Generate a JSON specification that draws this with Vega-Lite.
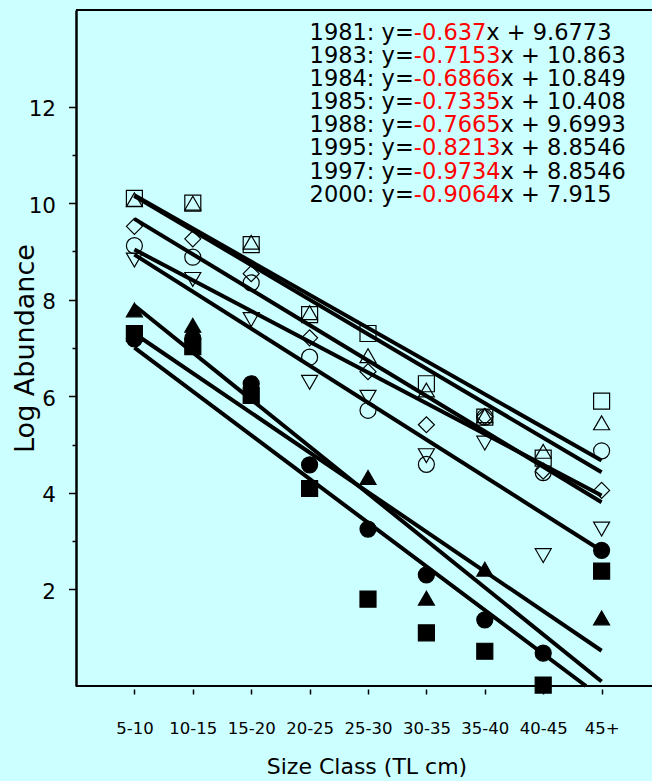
{
  "$schema": "https://vega.github.io/schema/vega-lite/v6.json",
  "width": 576,
  "height": 676,
  "autosize": {"type": "none"},
  "padding": {"left": 76, "top": 10, "right": 0, "bottom": 95},
  "background": "#CCFFFF",
  "config": {
    "view": {"stroke": null},
    "font": "DejaVu Sans",
    "axis": {"grid": false, "labelFont": "DejaVu Sans", "titleFont": "DejaVu Sans"}
  },
  "datasets": {
    "obs": [
      {"year": "1981", "k": 1, "v": 9.12}, {"year": "1981", "k": 2, "v": 8.88}, {"year": "1981", "k": 3, "v": 8.35},
      {"year": "1981", "k": 4, "v": 6.81}, {"year": "1981", "k": 5, "v": 5.71}, {"year": "1981", "k": 6, "v": 4.59},
      {"year": "1981", "k": 7, "v": 5.57}, {"year": "1981", "k": 8, "v": 4.42}, {"year": "1981", "k": 9, "v": 4.87},
      {"year": "1983", "k": 1, "v": 10.07}, {"year": "1983", "k": 2, "v": 10.0}, {"year": "1983", "k": 3, "v": 9.19},
      {"year": "1983", "k": 4, "v": 7.73}, {"year": "1983", "k": 5, "v": 6.84}, {"year": "1983", "k": 6, "v": 6.13},
      {"year": "1983", "k": 7, "v": 5.6}, {"year": "1983", "k": 8, "v": 4.86}, {"year": "1983", "k": 9, "v": 5.45},
      {"year": "1984", "k": 1, "v": 10.1}, {"year": "1984", "k": 2, "v": 10.0}, {"year": "1984", "k": 3, "v": 9.14},
      {"year": "1984", "k": 4, "v": 7.69}, {"year": "1984", "k": 5, "v": 7.3}, {"year": "1984", "k": 6, "v": 6.26},
      {"year": "1984", "k": 7, "v": 5.57}, {"year": "1984", "k": 8, "v": 4.72}, {"year": "1984", "k": 9, "v": 5.9},
      {"year": "1985", "k": 1, "v": 9.52}, {"year": "1985", "k": 2, "v": 9.26}, {"year": "1985", "k": 3, "v": 8.54},
      {"year": "1985", "k": 4, "v": 7.21}, {"year": "1985", "k": 5, "v": 6.51}, {"year": "1985", "k": 6, "v": 5.41},
      {"year": "1985", "k": 7, "v": 5.58}, {"year": "1985", "k": 8, "v": 4.45}, {"year": "1985", "k": 9, "v": 4.05},
      {"year": "1988", "k": 1, "v": 8.82}, {"year": "1988", "k": 2, "v": 8.42}, {"year": "1988", "k": 3, "v": 7.59},
      {"year": "1988", "k": 4, "v": 6.29}, {"year": "1988", "k": 5, "v": 5.98}, {"year": "1988", "k": 6, "v": 4.77},
      {"year": "1988", "k": 7, "v": 5.03}, {"year": "1988", "k": 8, "v": 2.7}, {"year": "1988", "k": 9, "v": 3.25},
      {"year": "1995", "k": 1, "v": 7.19}, {"year": "1995", "k": 2, "v": 7.2}, {"year": "1995", "k": 3, "v": 6.26},
      {"year": "1995", "k": 4, "v": 4.58}, {"year": "1995", "k": 5, "v": 3.25}, {"year": "1995", "k": 6, "v": 2.3},
      {"year": "1995", "k": 7, "v": 1.37}, {"year": "1995", "k": 8, "v": 0.68}, {"year": "1995", "k": 9, "v": 2.81},
      {"year": "1997", "k": 1, "v": 7.79}, {"year": "1997", "k": 2, "v": 7.47}, {"year": "1997", "k": 5, "v": 4.32},
      {"year": "1997", "k": 6, "v": 1.82}, {"year": "1997", "k": 7, "v": 2.42}, {"year": "1997", "k": 9, "v": 1.41},
      {"year": "2000", "k": 1, "v": 7.3}, {"year": "2000", "k": 2, "v": 7.03}, {"year": "2000", "k": 3, "v": 6.02},
      {"year": "2000", "k": 4, "v": 4.09}, {"year": "2000", "k": 5, "v": 1.8}, {"year": "2000", "k": 6, "v": 1.1},
      {"year": "2000", "k": 7, "v": 0.72}, {"year": "2000", "k": 8, "v": 0.02}, {"year": "2000", "k": 9, "v": 2.38}
    ],
    "fits": [
      {"year": "1981", "k": 1, "v": 9.04}, {"year": "1981", "k": 9, "v": 3.944},
      {"year": "1983", "k": 1, "v": 10.148}, {"year": "1983", "k": 9, "v": 4.425},
      {"year": "1984", "k": 1, "v": 10.162}, {"year": "1984", "k": 9, "v": 4.67},
      {"year": "1985", "k": 1, "v": 9.675}, {"year": "1985", "k": 9, "v": 3.807},
      {"year": "1988", "k": 1, "v": 8.933}, {"year": "1988", "k": 9, "v": 2.8},
      {"year": "1995", "k": 1, "v": 7.3}, {"year": "1995", "k": 9, "v": 0.73},
      {"year": "1997", "k": 1, "v": 7.881}, {"year": "1997", "k": 9, "v": 0.093},
      {"year": "2000", "k": 1, "v": 7.009}, {"year": "2000", "k": 8.733, "v": 0}
    ],
    "eq": [
      {
        "pre": "1981: y=\n1983: y=\n1984: y=\n1985: y=\n1988: y=\n1995: y=\n1997: y=\n2000: y=",
        "slope": "-0.637\n-0.7153\n-0.6866\n-0.7335\n-0.7665\n-0.8213\n-0.9734\n-0.9064",
        "post1": "x + 9.6773",
        "post": "\nx + 10.863\nx + 10.849\nx + 10.408\nx + 9.6993\nx + 8.8546\nx + 8.8546\nx + 7.915"
      }
    ]
  },
  "resolve": {"axis": {"x": "independent", "y": "independent"}, "scale": {"x": "shared", "y": "shared"}},
  "layer": [
    {
      "data": {"name": "obs"},
      "mark": {"type": "point", "filled": true, "size": 256, "stroke": "black", "strokeWidth": 1.2, "opacity": 1},
      "encoding": {
        "x": {
          "field": "k", "type": "quantitative",
          "scale": {"domain": [0, 9.863], "nice": false, "zero": false},
          "axis": {
            "values": [1, 2, 3, 4, 5, 6, 7, 8, 9],
            "labelExpr": "['','5-10','10-15','15-20','20-25','25-30','30-35','35-40','40-45','45+'][datum.value]",
            "domain": false, "offset": 3, "tickSize": 5, "tickWidth": 1.5, "tickColor": "black",
            "labelFontSize": 16.5, "labelColor": "black", "labelPadding": 39, "labelBaseline": "alphabetic",
            "labelFlush": false, "labelOverlap": false,
            "title": "Size Class (TL cm)", "titleFontSize": 22, "titleFontWeight": "normal", "titleColor": "black",
            "titleX": 290.5, "titleY": 84.3, "titleBaseline": "alphabetic", "titleAlign": "center", "titleAnchor": null
          }
        },
        "y": {
          "field": "v", "type": "quantitative",
          "scale": {"domain": [0, 14], "nice": false},
          "axis": {
            "orient": "left", "values": [2, 4, 6, 8, 10, 12],
            "domain": true, "domainColor": "black", "domainWidth": 2.5,
            "tickSize": 7.5, "tickWidth": 1.5, "tickColor": "black",
            "labelFontSize": 21.5, "labelPadding": 13, "labelColor": "black", "labelOffset": 3, "labelFlush": false,
            "title": "Log Abundance", "titleFontSize": 27, "titleFontWeight": "normal", "titleColor": "black",
            "titleX": -43, "titleY": 338, "titleAngle": 270, "titleAlign": "center", "titleBaseline": "alphabetic", "titleAnchor": null
          }
        },
        "shape": {
          "field": "year", "type": "nominal", "legend": null,
          "scale": {
            "domain": ["1981", "1983", "1984", "1985", "1988", "1995", "1997", "2000"],
            "range": ["circle", "triangle-up", "square", "diamond", "triangle-down", "circle", "triangle-up", "square"]
          }
        },
        "fill": {
          "field": "year", "type": "nominal", "legend": null,
          "scale": {
            "domain": ["1981", "1983", "1984", "1985", "1988", "1995", "1997", "2000"],
            "range": ["transparent", "transparent", "transparent", "transparent", "transparent", "black", "black", "black"]
          }
        }
      }
    },
    {
      "data": {"name": "fits"},
      "mark": {"type": "line", "strokeWidth": 4, "color": "black", "strokeCap": "butt"},
      "encoding": {
        "x": {"field": "k", "type": "quantitative", "axis": null},
        "y": {
          "field": "v", "type": "quantitative",
          "axis": {
            "orient": "left", "values": [3, 5, 7, 9, 11], "domain": false, "labels": false,
            "tickSize": 4, "tickWidth": 1.5, "tickColor": "black", "title": null
          }
        },
        "detail": {"field": "year", "type": "nominal"}
      }
    },
    {
      "data": {"values": [{}]},
      "mark": {"type": "rule", "strokeWidth": 2, "color": "black"},
      "encoding": {"y": {"datum": 14, "type": "quantitative", "axis": null}}
    },
    {
      "data": {"values": [{}]},
      "mark": {"type": "rule", "strokeWidth": 2, "color": "black"},
      "encoding": {"y": {"datum": 0, "type": "quantitative", "axis": null}}
    },
    {
      "data": {"name": "eq"},
      "mark": {"type": "text", "align": "left", "baseline": "alphabetic", "fontSize": 22.5, "font": "DejaVu Sans", "lineBreak": "\n", "lineHeight": 23.1, "color": "black"},
      "encoding": {
        "x": {"datum": 4.0, "type": "quantitative", "axis": null},
        "y": {"datum": 13.38, "type": "quantitative", "axis": null},
        "text": {"field": "pre", "type": "nominal"}
      }
    },
    {
      "data": {"name": "eq"},
      "mark": {"type": "text", "align": "left", "baseline": "alphabetic", "fontSize": 22.5, "font": "DejaVu Sans", "lineBreak": "\n", "lineHeight": 23.1, "color": "#FF0000", "dx": 104.2},
      "encoding": {
        "x": {"datum": 4.0, "type": "quantitative", "axis": null},
        "y": {"datum": 13.38, "type": "quantitative", "axis": null},
        "text": {"field": "slope", "type": "nominal"}
      }
    },
    {
      "data": {"name": "eq"},
      "mark": {"type": "text", "align": "left", "baseline": "alphabetic", "fontSize": 22.5, "font": "DejaVu Sans", "lineBreak": "\n", "lineHeight": 23.1, "color": "black", "dx": 176.7},
      "encoding": {
        "x": {"datum": 4.0, "type": "quantitative", "axis": null},
        "y": {"datum": 13.38, "type": "quantitative", "axis": null},
        "text": {"field": "post1", "type": "nominal"}
      }
    },
    {
      "data": {"name": "eq"},
      "mark": {"type": "text", "align": "left", "baseline": "alphabetic", "fontSize": 22.5, "font": "DejaVu Sans", "lineBreak": "\n", "lineHeight": 23.1, "color": "black", "dx": 191.0},
      "encoding": {
        "x": {"datum": 4.0, "type": "quantitative", "axis": null},
        "y": {"datum": 13.38, "type": "quantitative", "axis": null},
        "text": {"field": "post", "type": "nominal"}
      }
    }
  ]
}
